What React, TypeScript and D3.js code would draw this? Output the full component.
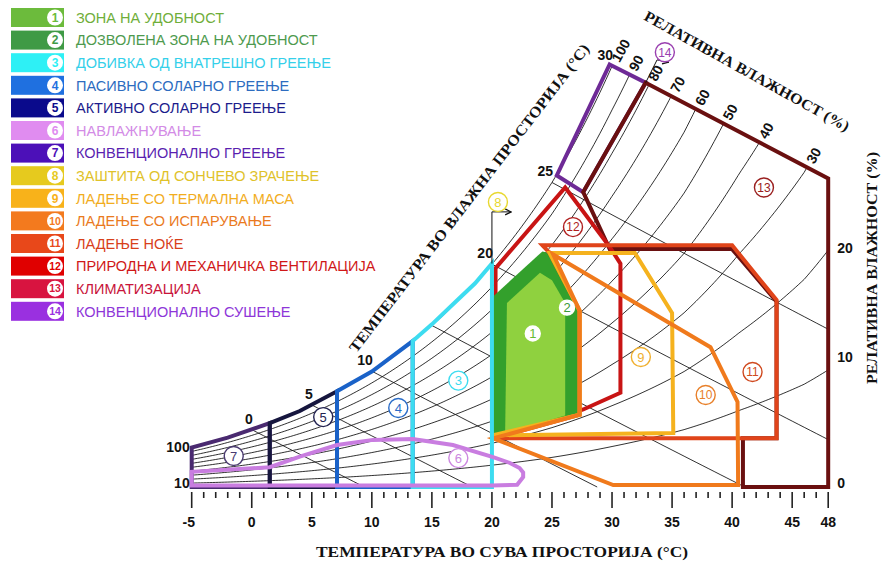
import React from "react";
import * as d3 from "d3";

// legend
const zoneNames = [
  "ЗОНА НА УДОБНОСТ",
  "ДОЗВОЛЕНА ЗОНА НА УДОБНОСТ",
  "ДОБИВКА ОД ВНАТРЕШНО ГРЕЕЊЕ",
  "ПАСИВНО СОЛАРНО ГРЕЕЊЕ",
  "АКТИВНО СОЛАРНО ГРЕЕЊЕ",
  "НАВЛАЖНУВАЊЕ",
  "КОНВЕНЦИОНАЛНО ГРЕЕЊЕ",
  "ЗАШТИТА ОД СОНЧЕВО ЗРАЧЕЊЕ",
  "ЛАДЕЊЕ СО ТЕРМАЛНА МАСА",
  "ЛАДЕЊЕ СО ИСПАРУВАЊЕ",
  "ЛАДЕЊЕ НОЌЕ",
  "ПРИРОДНА И МЕХАНИЧКА ВЕНТИЛАЦИЈА",
  "КЛИМАТИЗАЦИЈА",
  "КОНВЕНЦИОНАЛНО СУШЕЊЕ",
];
const swatchColors = ["#6cbb3c", "#3f9a45", "#2ef0f5", "#1f70e0", "#0a0a8c", "#e08cf0", "#4c10b8",
  "#e6ca1e", "#f8b21a", "#f37a1e", "#e8481a", "#e00000", "#d81440", "#9a30e0"];
const nameColors = ["#6fae3a", "#4e9a4e", "#35d0ea", "#2d6cc0", "#1c1c8c", "#d38be6", "#5a1fb0",
  "#e0c22a", "#f2ad1e", "#ea7a1e", "#d8401a", "#d01818", "#c8143a", "#8e36d8"];

// axes
const dryBulbTicks = [-5, 0, 5, 10, 15, 20, 25, 30, 35, 40, 45, 48];
const dryBulbMinor = d3.range(-5, 49, 1);
const rhLevels = [10, 20, 30, 40, 50, 60, 70, 80, 90, 100];
const rhTopLabels = [100, 90, 80, 70, 60, 50, 40, 30];
const wetBulbLines = [0, 5, 10, 15, 20, 25];
const wetBulbLabels = [0, 5, 10, 20, 25, 30];
const rightTickLabels = ["0", "10", "20"];
const rightTickW = [0.25, 8.55, 15.7];

// upper limit of the chart (30 °C wet bulb line), [°C, g/kg]
const topEdge = [[29.8, 27.8], [48, 20.3]];
// how far the drawn humidity curves sit above the textbook ones
const stretchT = [-5, 25, 30, 36, 40.6, 46, 48];
const stretchF = [1, 1, 1.02, 1.03, 1.07, 1.08, 1.11];

// zones, [°C, g/kg]
const zone1 = [[21.25, 12.1], [24.0, 14.1], [25.0, 13.6], [26.1, 12.1], [26.1, 4.7], [21.1, 3.55]];
const zone2 = [[20.05, 3.2], [20.05, 12.5], [24.2, 15.5], [24.8, 15.4], [27.2, 11.5], [27.3, 4.75]];
const zone3 = [[13.4, 0], [13.4, 9.6], [15, 10.7], [17, 12.2], [18.6, 13.4], [20, 14.7], [20, 0]];
const zone4 = [[7.1, 0], [7.1, 6.3], [10, 7.6], [13.4, 9.6], [13.4, 0]];
const zone5 = [[1.5, 0], [1.5, 4.2], [4, 5.0], [7.1, 6.3], [7.1, 0]];
const zone6 = [[-5, 0.1], [-5, 1.0], [1.5, 1.3], [4, 2.0], [7.1, 2.76], [10.1, 3.1], [13.4, 3.16],
  [16.75, 2.76], [20.1, 1.97], [21.5, 1.58], [22.3, 1.25], [22.6, 0.95], [22.6, 0.66], [22.1, 0.15], [20, 0.1]];
const zone7 = [[-5, 0], [-5, 2.6], [-2, 3.25], [1.5, 4.2], [1.5, 0]];
const zone9 = [[24.8, 15.4], [31.9, 15.4], [35.0, 11.45], [35.1, 3.55], [20.1, 3.4], [27.3, 4.75], [27.3, 11.6]];
const zone10 = [[25.1, 15.3], [38.2, 9.2], [40.45, 5.6], [40.5, 0.13], [30.1, 0.13], [20.1, 3.2], [27.3, 4.75], [27.3, 11.6]];
const zone11 = [[24.2, 15.9], [40.0, 15.9], [43.7, 12.3], [43.7, 3.2], [20.1, 3.2], [27.3, 4.75], [27.3, 11.6], [24.8, 15.4]];
const zone12 = [[20.3, 3.2], [20.3, 14.4], [26.1, 19.7], [29.8, 15.8], [30.7, 14.7], [30.7, 6.2], [27.6, 5.1]];
const zone13 = [[32.8, 26.6], [48, 20.3], [48, 0], [40.9, 0], [40.9, 3.2], [43.7, 3.2], [43.7, 12.2],
  [40.0, 15.65], [29.8, 15.65], [27.6, 19.4]];
const zone14 = [[29.8, 27.8], [32.8, 26.6], [27.6, 19.4], [25.4, 20.5]];

const zoneLabelPos = [[23.4, 10.1], [26.25, 11.8], [17.2, 7.0], [12.2, 5.2], [5.95, 4.6], [17.2, 1.9],
  [-1.5, 2.04], [20.5, 18.75], [32.4, 8.55], [37.8, 6.05], [41.7, 7.57], [26.75, 17.1], [42.65, 19.7], [34.4, 28.6]];
const zoneLabelColors = ["#66bb33", "#3a9a3a", "#3ddcf0", "#2a6cc8", "#222250", "#cc88e0", "#4a3a70",
  "#e8d830", "#f0b030", "#e8802a", "#d04a20", "#b02020", "#9a2020", "#9a40b0"];
const arrow8 = [[20, 14.7], [20, 18.1], [21.6, 18.1]];
const arrow14 = [[32.8, 26.6], [33.75, 28.1], [34.7, 27.95]];

const pws = (t: number) => 0.61094 * Math.exp((17.625 * t) / (t + 243.04));
const stretch = d3.scaleLinear(stretchT, stretchF).clamp(true);
const wRH = (t: number, rh: number) => {
  const p = (rh / 100) * pws(t);
  return ((622 * p) / (101.325 - p)) * stretch(t);
};
const wTop = d3.scaleLinear(topEdge.map((d) => d[0]), topEdge.map((d) => d[1]));

function rhCurve(rh: number) {
  const pts: number[][] = [];
  for (const t of d3.range(-5, 48.001, 0.25)) {
    if (wRH(t, rh) > wTop(t)) {
      let lo = pts[pts.length - 1][0], hi = t;
      for (let k = 0; k < 30; k++) {
        const m = (lo + hi) / 2;
        if (wRH(m, rh) > wTop(m)) hi = m; else lo = m;
      }
      pts.push([lo, wRH(lo, rh)]);
      return pts;
    }
    pts.push([t, wRH(t, rh)]);
  }
  return pts;
}

function wbCurve(twb: number) {
  const ws = wRH(twb, 100) / 1000;
  const a = (2501 - 2.326 * twb) * ws;
  const wAt = (t: number) => ((a - 1.006 * (t - twb)) / (2501 + 1.86 * t - 4.186 * twb)) * 1000;
  const pts: number[][] = [];
  for (const t of d3.range(twb, 48.001, 0.5)) {
    if (wAt(t) < 0) {
      pts.push([twb + a / 1.006, 0]);
      return pts;
    }
    pts.push([t, wAt(t)]);
  }
  return pts;
}

const SANS = "'Liberation Sans', Arial, sans-serif";
const SERIF = "'Liberation Serif', 'Times New Roman', serif";

export default function App() {
  const x = d3.scaleLinear().domain([-5, 48]).range([191.7, 828.2]);
  const y = d3.scaleLinear().domain([0, 28]).range([487, 487 - 28 * 15.2]);
  const line = d3.line<number[]>().x((d) => x(d[0])).y((d) => y(d[1]));
  const poly = (pts: number[][]) => line(pts) + "Z";
  const base = y(0);

  const zoneStroke = (pts: number[][], color: string, key: string) => (
    <path key={key} d={poly(pts)} fill="none" stroke={color} strokeWidth={4} strokeLinejoin="miter" />
  );

  const topCross = rhTopLabels.map((rh) => {
    const c = rhCurve(rh);
    return { rh, p: c[c.length - 1] };
  });

  return (
    <svg width={881} height={564} style={{ position: "absolute", left: 0, top: 0, background: "#fff" }}>
      <defs>
        <marker id="arr" viewBox="0 0 8 8" refX="7" refY="4" markerWidth="8" markerHeight="8" orient="auto">
          <path d="M1,1 L7,4 L1,7" fill="none" stroke="#111" strokeWidth={1.2} />
        </marker>
      </defs>

      {/* grid: relative humidity and wet bulb lines */}
      <g fill="none" stroke="#1a1a1a" strokeWidth={0.9}>
        {rhLevels.map((rh) => <path key={"rh" + rh} d={line(rhCurve(rh)) || ""} />)}
        {wetBulbLines.map((t) => <path key={"wb" + t} d={line(wbCurve(t)) || ""} />)}
        <path d={line([[topEdge[0][0], wTop(topEdge[0][0])], topEdge[1]]) || ""} />
      </g>

      {zoneStroke(zone14, "#6e2a96", "z14")}
      {zoneStroke(zone13, "#6a1010", "z13")}
      {zoneStroke(zone12, "#c81414", "z12")}

      <path d={poly(zone2)} fill="#33a02c" stroke="none" />
      <path d={poly(zone1)} fill="#8fd13f" stroke="none" />

      {zoneStroke(zone11, "#e0441a", "z11")}
      {zoneStroke(zone9, "#f5b21e", "z9")}
      {zoneStroke(zone10, "#f07a1c", "z10")}
      {zoneStroke(zone7, "#4a2a70", "z7")}
      {zoneStroke(zone5, "#16163e", "z5")}
      {zoneStroke(zone4, "#1a62c8", "z4")}
      {zoneStroke(zone3, "#3ddcf0", "z3")}
      {zoneStroke(zone6, "#c97de0", "z6")}

      <path d={line(arrow8) || ""} fill="none" stroke="#111" strokeWidth={1} markerEnd="url(#arr)" />
      <path d={line(arrow14) || ""} fill="none" stroke="#111" strokeWidth={1} markerEnd="url(#arr)" />

      {/* zone numbers */}
      {zoneLabelPos.map((p, i) => {
        const inGreen = i < 2;
        const r = inGreen ? 7.5 : 9.5;
        return (
          <g key={"zl" + i} transform={`translate(${x(p[0])},${y(p[1])})`}>
            <circle r={r} fill="#fff" stroke={inGreen ? "#fff" : zoneLabelColors[i]} strokeWidth={1.4} />
            <text textAnchor="middle" dy="0.36em" fontFamily={SANS} fontSize={i >= 9 ? 12 : 13}
              fill={zoneLabelColors[i]}>{i + 1}</text>
          </g>
        );
      })}

      {/* x axis */}
      <g stroke="#222" strokeWidth={1.6}>
        {dryBulbMinor.map((t) => (
          <line key={"mt" + t} x1={x(t)} x2={x(t)} y1={base + 5} y2={base + (dryBulbTicks.includes(t) ? 21 : 11)} />
        ))}
      </g>
      <g fontFamily={SANS} fontWeight="bold" fontSize={14} fill="#111" textAnchor="middle">
        {dryBulbTicks.map((t) => (
          <text key={"xl" + t} x={x(t) - (t === -5 ? 3 : 0)} y={base + 40}>{t}</text>
        ))}
        {rightTickLabels.map((s, i) => (
          <text key={"rl" + s} x={x(48) + 9} y={y(rightTickW[i])} dy="0.35em" textAnchor="start">{s}</text>
        ))}
        <text x={x(-5) - 2} y={y(wRH(-5, 100))} dy="0.35em" textAnchor="end">100</text>
        <text x={x(-5) - 2} y={y(wRH(-5, 10))} dy="0.35em" textAnchor="end">10</text>
        {wetBulbLabels.map((t) => (
          <text key={"wl" + t} x={x(t) + 1} y={y(wRH(t, 100)) - 11} dy="0.35em" textAnchor="end">{t}</text>
        ))}
        {topCross.map(({ rh, p }) => (
          <text key={"tl" + rh} transform={`translate(${x(p[0]) + 3},${y(p[1]) - 5}) rotate(-61)`}
            textAnchor="start" dy="0.35em">{rh}</text>
        ))}
      </g>

      {/* titles */}
      <g fontFamily={SERIF} fontWeight="bold" fill="#111" textAnchor="middle">
        <text x={502} y={552} dy="0.35em" fontSize={15} textLength={372} lengthAdjust="spacingAndGlyphs">
          ТЕМПЕРАТУРА ВО СУВА ПРОСТОРИЈА (°C)
        </text>
        <text transform="translate(469,198) rotate(-52.5)" dy="0.35em" fontSize={15} textLength={384}
          lengthAdjust="spacingAndGlyphs">ТЕМПЕРАТУРА ВО ВЛАЖНА ПРОСТОРИЈА (°C)</text>
        <text transform="translate(747,71) rotate(29)" dy="0.35em" fontSize={15} textLength={232}
          lengthAdjust="spacingAndGlyphs">РЕЛАТИВНА ВЛАЖНОСТ (%)</text>
        <text transform="translate(872,268) rotate(-90)" dy="0.35em" fontSize={14} textLength={232}
          lengthAdjust="spacingAndGlyphs">РЕЛАТИВНА ВЛАЖНОСТ (%)</text>
      </g>

      {/* legend */}
      {zoneNames.map((name, i) => {
        const cy = 17.5 + i * 22.6;
        return (
          <g key={"lg" + i}>
            <rect x={11} y={cy - 9.5} width={53} height={19} fill={swatchColors[i]} />
            <circle cx={55} cy={cy} r={8} fill="#fff" />
            <text x={55} y={cy} dy="0.36em" textAnchor="middle" fontFamily={SANS} fontWeight="bold"
              fontSize={i >= 9 ? 10.5 : 12} fill={swatchColors[i]}>{i + 1}</text>
            <text x={76} y={cy} dy="0.36em" fontFamily={SANS} fontSize={14.5} fill={nameColors[i]}>{name}</text>
          </g>
        );
      })}
    </svg>
  );
}
